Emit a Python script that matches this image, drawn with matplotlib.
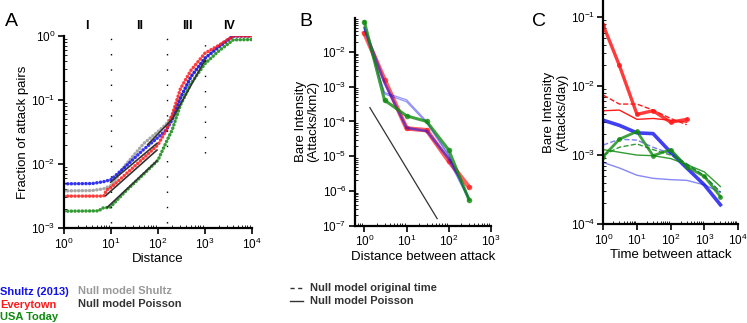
import numpy as np
import matplotlib
matplotlib.use("Agg")
import matplotlib.pyplot as plt
from matplotlib.ticker import LogLocator, NullFormatter

plt.rcParams['font.family'] = ['Liberation Sans', 'DejaVu Sans']
plt.rcParams['mathtext.default'] = 'regular'

BLUE = '#1010ee'
RED = '#ff1a1a'
GREEN = '#108a10'
GRAY = '#999999'
DARK = '#333333'

# ---- panel A: fraction of attack pairs vs distance
a_x_shultz = [1, 4, 7, 10, 20, 50, 100, 150, 200, 300, 500, 1000, 2000, 4000, 10000]
a_shultz = [4.9e-3, 4.95e-3, 5.3e-3, 5.7e-3, 9e-3, 0.017, 0.026, 0.034, 0.049, 0.107, 0.23, 0.45, 0.68, 1.0, 1.0]
a_x_gray = [1, 4, 7, 10, 20, 50, 100, 150, 200, 300, 500, 1000, 2000, 4000, 10000]
a_gray = [3.8e-3, 3.85e-3, 4.1e-3, 4.6e-3, 9.5e-3, 0.021, 0.032, 0.042, 0.058, 0.11, 0.23, 0.45, 0.7, 1.0, 1.0]
a_x_red = [1, 7, 8, 10, 20, 50, 100, 150, 200, 300, 500, 1000, 2000, 4000, 10000]
a_red = [3.15e-3, 3.15e-3, 3.9e-3, 4.3e-3, 6.8e-3, 0.0125, 0.02, 0.034, 0.058, 0.15, 0.29, 0.54, 0.72, 1.0, 1.0]
a_x_green = [1, 5.5, 6.5, 9.5, 20, 50, 100, 150, 200, 300, 500, 1000, 2000, 4000, 10000]
a_green = [1.83e-3, 1.85e-3, 2.05e-3, 2.1e-3, 3.7e-3, 7e-3, 0.0115, 0.022, 0.034, 0.083, 0.18, 0.37, 0.59, 0.87, 0.88]
# poisson fits (black segments)
a_fit_x = [[9.8, 95], [7.7, 95], [8.3, 95], [60, 200, 1000]]
a_fit_y = [[5.2e-3, 0.021], [3.2e-3, 0.0165], [2.1e-3, 0.0112], [0.02, 0.05, 0.42]]
a_regions = ['I', 'II', 'III', 'IV']
a_region_x = [3, 41, 420, 3200]
a_bounds = [10, 155, 1000]
a_bound_low = [1.2e-3, 1.2e-3, 0.015]

# ---- panel B: bare intensity vs distance
b_x = [1, 3, 10, 30, 100, 300]
b_red = [0.035, 1.6e-3, 6.3e-5, 5.6e-5, 7.2e-6, 1.3e-6]
b_blue = [0.05, 1.3e-3, 6.5e-5, 5.3e-5, 8.5e-6, 6e-7]
b_green = [0.074, 4.1e-4, 1.45e-4, 1e-4, 1.5e-5, 5.6e-7]
b_blue_null1 = [0.05, 6.8e-4, 4.2e-4, 1e-4, 1.1e-5, 5.5e-7]
b_blue_null2 = [0.045, 6.2e-4, 3.7e-4, 9e-5, 1e-5, 6e-7]
b_ref_x = [1.35, 53]
b_ref_y = [2.5e-4, 1.6e-7]

# ---- panel C: bare intensity vs time
c_x_red = [1, 3, 10, 30, 100, 300]
c_red = [0.076, 0.02, 3.9e-3, 4.4e-3, 3.0e-3, 3.3e-3]
c_red_orig = [7.4e-3, 5.5e-3, 5.5e-3, 4.5e-3, 3.4e-3, 2.76e-3]
c_red_pois = [4.4e-3, 4.5e-3, 3.3e-3, 3.4e-3, 3.2e-3, 3.0e-3]
c_x = [1, 3, 10, 30, 100, 300, 1000, 3000]
c_blue = [3.2e-3, 2.7e-3, 2.1e-3, 2.05e-3, 1.1e-3, 6.5e-4, 3.7e-4, 1.9e-4]
c_blue_orig = [1.4e-3, 1.7e-3, 1.65e-3, 1.3e-3, 1.05e-3, 7.5e-4, 5e-4, 2.9e-4]
c_blue_pois = [7.8e-4, 6.5e-4, 5.1e-4, 4.6e-4, 4.4e-4, 4.3e-4, 3.7e-4, 2.9e-4]
c_green = [9.5e-4, 1.7e-3, 2.2e-3, 9.8e-4, 1.2e-3, 6.8e-4, 4.9e-4, 2.5e-4]
c_green_orig = [1e-3, 1.3e-3, 1.45e-3, 1.2e-3, 1e-3, 7.4e-4, 5e-4, 2.9e-4]
c_green_pois = [1.2e-3, 1.1e-3, 1e-3, 9.8e-4, 8.9e-4, 7.3e-4, 5.7e-4, 3.5e-4]

W, H = 747, 323
fig = plt.figure(figsize=(W / 100, H / 100), dpi=100)


def style(ax):
    ax.set_xscale('log')
    ax.set_yscale('log')
    for s in ['top', 'right']:
        ax.spines[s].set_visible(False)
    for s in ['left', 'bottom']:
        ax.spines[s].set_linewidth(1.6)
    ax.xaxis.set_major_locator(LogLocator(base=10, numticks=20))
    ax.yaxis.set_major_locator(LogLocator(base=10, numticks=20))
    ax.xaxis.set_minor_locator(LogLocator(base=10, subs=np.arange(2, 10), numticks=20))
    ax.yaxis.set_minor_locator(LogLocator(base=10, subs=np.arange(2, 10), numticks=20))
    ax.xaxis.set_minor_formatter(NullFormatter())
    ax.yaxis.set_minor_formatter(NullFormatter())
    ax.tick_params(which='major', direction='out', length=4, width=1.2, labelsize=8.5, pad=2)
    ax.tick_params(which='minor', direction='in', length=2, width=0.6)


# panel A
axA = fig.add_axes([64 / W, 1 - 228 / H, 188 / W, 192 / H])
style(axA)
dots = dict(lw=2.5, linestyle=(0, (0.05, 1.0)), dash_capstyle='round', alpha=0.85)
axA.plot(a_x_gray, a_gray, color=GRAY, **dots)
axA.plot(a_x_shultz, a_shultz, color=BLUE, **dots)
axA.plot(a_x_red, a_red, color=RED, **dots)
axA.plot(a_x_green, a_green, color=GREEN, **dots)
for fx, fy in zip(a_fit_x, a_fit_y):
    axA.plot(fx, fy, color=DARK, lw=1.2)
for bx, lo in zip(a_bounds, a_bound_low):
    axA.plot([bx, bx], [lo, 1], color='black', lw=1, linestyle=(0, (1, 10)))
axA.set_xlim(1, 1e4)
axA.set_ylim(1e-3, 1)
axA.set_xlabel('Distance', fontsize=9.5, labelpad=1)
axA.set_ylabel('Fraction of attack pairs', fontsize=9.5, labelpad=2)
for lab, rx in zip(a_regions, a_region_x):
    axA.text(rx, 1.45, lab, ha='center', va='center', fontsize=9, fontweight='bold')

# panel B
axB = fig.add_axes([355 / W, 1 - 225.7 / H, 136 / W, 207.7 / H])
style(axB)
axB.plot(b_x, b_red, color=RED, lw=3.2, alpha=0.7, marker='o', ms=4, markeredgewidth=0)
axB.plot(b_x, b_blue, color=BLUE, lw=1.8, alpha=0.55)
axB.plot(b_x, b_blue_null1, color=BLUE, lw=0.9, alpha=0.45)
axB.plot(b_x, b_blue_null2, color=BLUE, lw=0.9, alpha=0.45)
axB.plot(b_x, b_green, color=GREEN, lw=2.2, alpha=0.8, marker='o', ms=4, markeredgewidth=0)
axB.plot(b_ref_x, b_ref_y, color=DARK, lw=0.9)
axB.set_xlim(0.6, 1000)
axB.set_ylim(1e-7, 0.095)
axB.set_xlabel('Distance between attack', fontsize=9.5, labelpad=1)
axB.set_ylabel('Bare Intensity\n(Attacks/km2)', fontsize=9.5, labelpad=2, linespacing=1.1)

# panel C
axC = fig.add_axes([603.3 / W, 1 - 224 / H, 134.7 / W, 224 / H])
style(axC)
axC.plot(c_x_red, c_red, color=RED, lw=2.4, alpha=0.85, marker='o', ms=3.5, markeredgewidth=0)
axC.plot(c_x_red, c_red_orig, color=RED, lw=1, linestyle='--')
axC.plot(c_x_red, c_red_pois, color=RED, lw=1)
axC.plot(c_x, c_blue, color=BLUE, lw=2.6, alpha=0.8)
axC.plot(c_x, c_blue_orig, color=BLUE, lw=1, linestyle='--', alpha=0.55)
axC.plot(c_x, c_blue_pois, color=BLUE, lw=1, alpha=0.5)
axC.plot(c_x, c_green, color=GREEN, lw=2, alpha=0.8, marker='o', ms=3.5, markeredgewidth=0)
axC.plot(c_x, c_green_orig, color=GREEN, lw=1, linestyle='--', alpha=0.85)
axC.plot(c_x, c_green_pois, color=GREEN, lw=1, alpha=0.85)
axC.set_xlim(1, 1e4)
axC.set_ylim(1e-4, 0.178)
axC.set_xlabel('Time between attack', fontsize=9.5, labelpad=1)
axC.set_ylabel('Bare Intensity\n(Attacks/day)', fontsize=9.5, labelpad=2, linespacing=1.1)

# panel letters
fig.text(5 / W, 1 - 22 / H, 'A', fontsize=14, va='center')
fig.text(299 / W, 1 - 22 / H, 'B', fontsize=14, va='center')
fig.text(532 / W, 1 - 22 / H, 'C', fontsize=14, va='center')

# legend texts
leg = dict(fontsize=8, fontweight='bold', va='center')
fig.text(0, 1 - 292 / H, 'Shultz (2013)', color=BLUE, **leg)
fig.text(0, 1 - 304.5 / H, 'Everytown', color=RED, **leg)
fig.text(0, 1 - 317 / H, 'USA Today', color=GREEN, **leg)
fig.text(78 / W, 1 - 291 / H, 'Null model Shultz', color=GRAY, **leg)
fig.text(78 / W, 1 - 304 / H, 'Null model Poisson', color=DARK, **leg)
fig.text(310 / W, 1 - 288 / H, 'Null model original time', color=DARK, **leg)
fig.text(310 / W, 1 - 301 / H, 'Null model Poisson', color=DARK, **leg)
fig.lines.append(plt.Line2D([290 / W, 303 / W], [1 - 288 / H] * 2, transform=fig.transFigure,
                            color=DARK, lw=1, linestyle='--', dashes=(3, 2.5)))
fig.lines.append(plt.Line2D([290 / W, 303 / W], [1 - 301 / H] * 2, transform=fig.transFigure,
                            color=DARK, lw=1))

fig.savefig('out.png', dpi=100)
